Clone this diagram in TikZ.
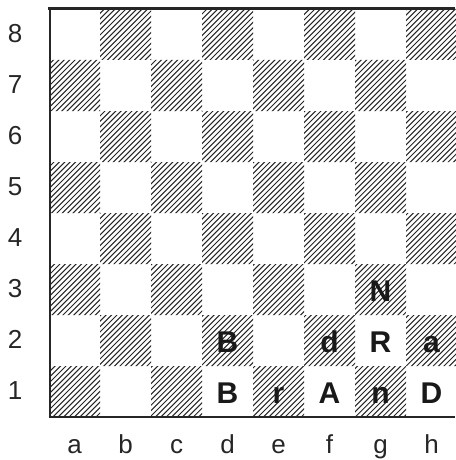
\documentclass[tikz,border=0pt]{standalone}
\usepackage{fontspec}
\setmainfont{Liberation Sans}
\tikzset{
  coordlbl/.style={inner sep=0pt, anchor=base, font=\fontsize{26}{30}\selectfont, text=black!85},
  piece/.style={inner sep=0pt, anchor=base, font=\fontsize{30}{34}\selectfont\bfseries, text=black!90},
  hatchline/.style={line width=1pt, black!85},
  border/.style={line width=2pt, black!85}
}
\begin{document}
\begin{tikzpicture}[x=1pt,y=-1pt]
\useasboundingbox (0,0) rectangle (455,460);
\fill[white] (0,0) rectangle (455,460);
% hatched (dark) squares
\begin{scope}
\clip \foreach \r in {1,3,5,7}{ \foreach \c in {0,2,4,6}{
  (49+51*\c, 417-51*\r) rectangle ++(51,51) }}
  \foreach \r in {2,4,6,8}{ \foreach \c in {1,3,5,7}{
  (49+51*\c, 417-51*\r) rectangle ++(51,51) }};
\foreach \k in {0,...,170} \draw[hatchline] (5.4*\k,0) -- (5.4*\k-460,460);
\end{scope}
% borders
\draw[line width=3pt, black!85] (48,8.5) -- (455,8.5);
\draw[border] (49.5,8) -- (49.5,417);
\draw[border] (48.5,416.5) -- (455,416.5);
% rank labels
\foreach \r in {1,...,8}
  \node[coordlbl] (rank\r) at (15, 417-51*\r+25.5+7.5) {\r};
% file labels
\foreach \f [count=\i from 0] in {a,b,c,d,e,f,g,h}
  \node[coordlbl] (file\f) at (49+51*\i+25.5, 453) {\f};
% pieces
\node[piece] (g3) at (49+51*6+25.5, 289.5+11.5) {N};
\node[piece] (d2) at (49+51*3+25.5, 340.5+11.5) {B};
\node[piece] (f2) at (49+51*5+25.5, 340.5+11.5) {d};
\node[piece] (g2) at (49+51*6+25.5, 340.5+11.5) {R};
\node[piece] (h2) at (49+51*7+25.5, 340.5+11.5) {a};
\node[piece] (d1) at (49+51*3+25.5, 391.5+11.5) {B};
\node[piece] (e1) at (49+51*4+25.5, 391.5+11.5) {r};
\node[piece] (f1) at (49+51*5+25.5, 391.5+11.5) {A};
\node[piece] (g1) at (49+51*6+25.5, 391.5+11.5) {n};
\node[piece] (h1) at (49+51*7+25.5, 391.5+11.5) {D};
\end{tikzpicture}
\end{document}
